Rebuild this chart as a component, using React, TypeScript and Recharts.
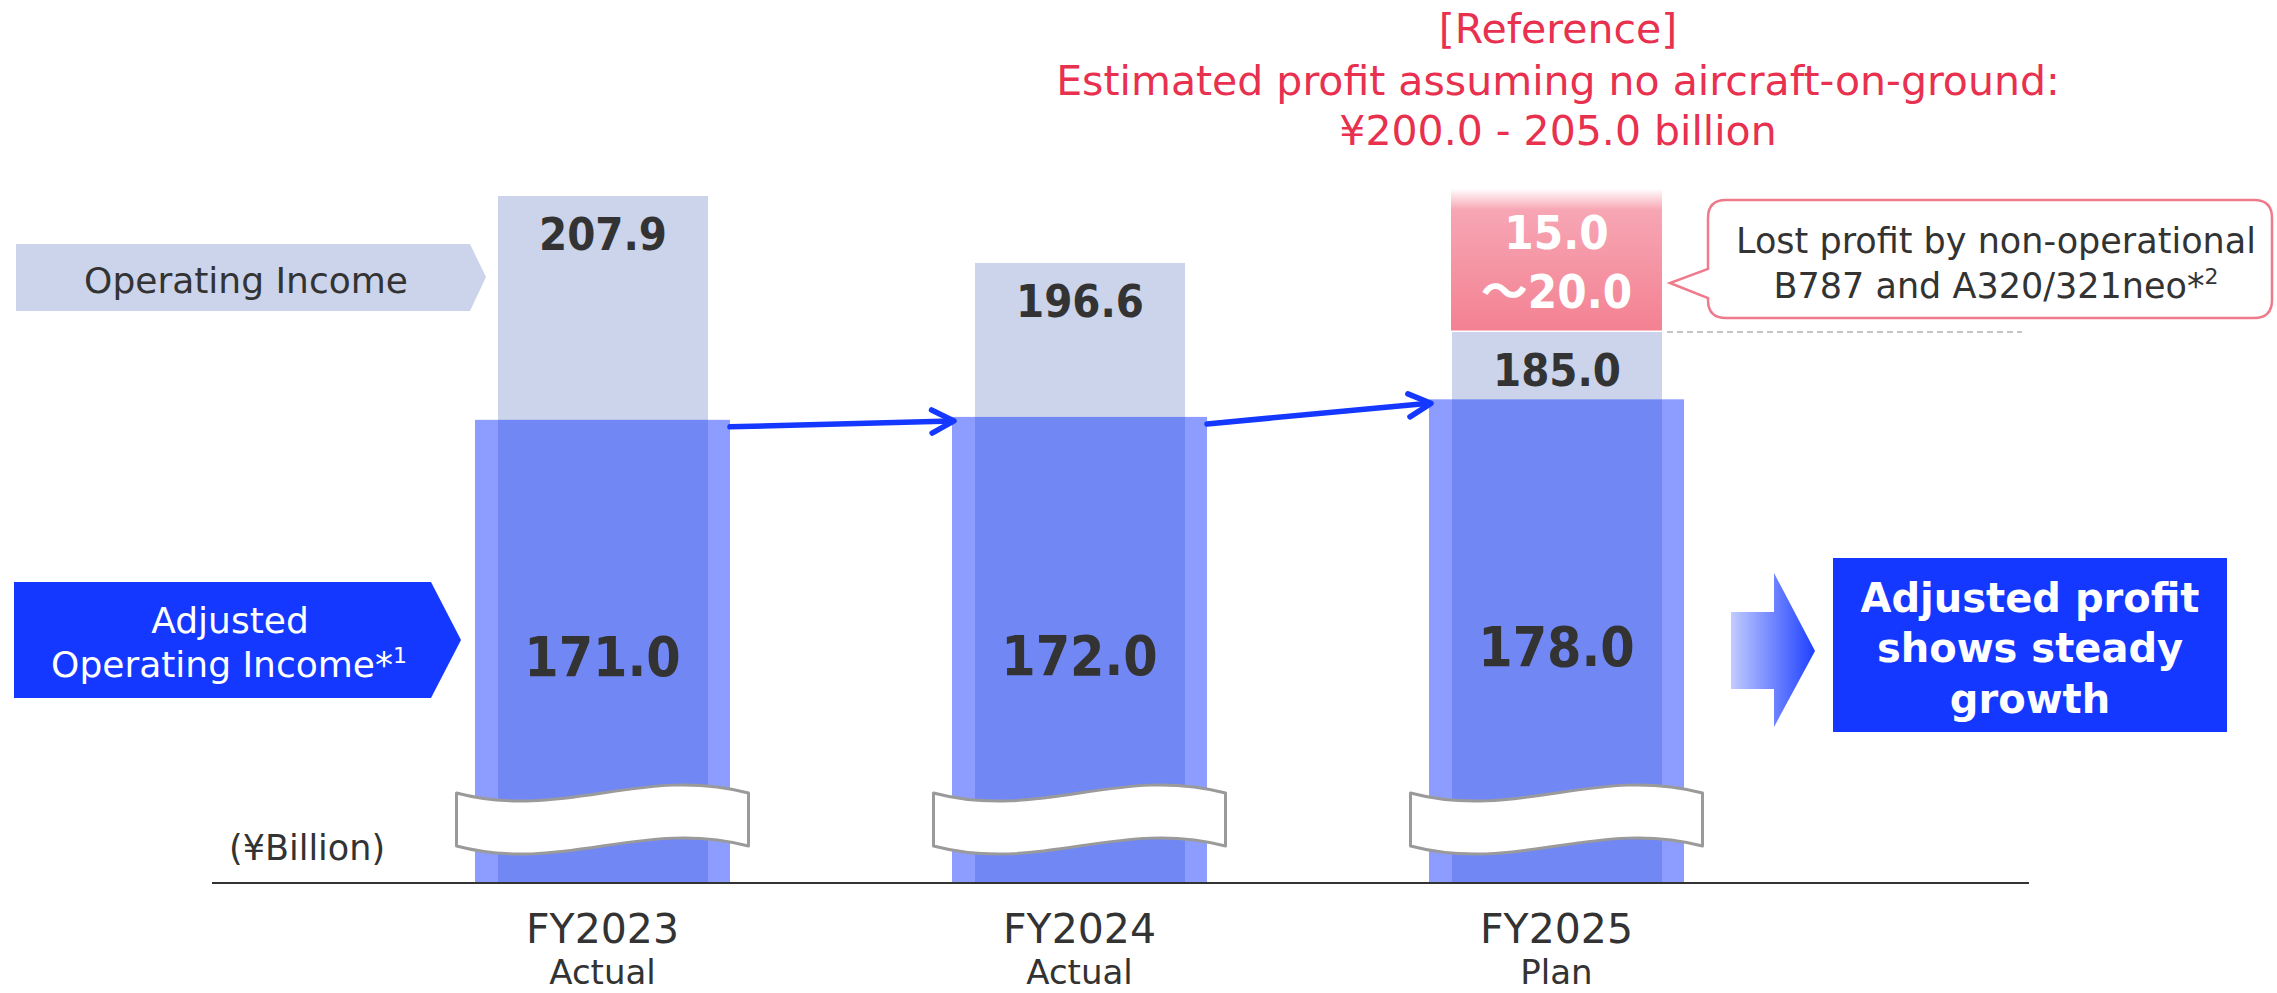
import React from "react";
import { BarChart, Bar, XAxis, YAxis, LabelList } from "recharts";

// ---------- data ----------
const categories = ["FY2023", "FY2024", "FY2025"];
const periodLabels = ["Actual", "Actual", "Plan"];
const operatingIncome = [207.9, 196.6, 185.0];
const adjustedOperatingIncome = [171.0, 172.0, 178.0];
const lostProfitLow: (number | null)[] = [null, null, 15.0];
const lostProfitHigh: (number | null)[] = [null, null, 20.0];

// ---------- layout / style ----------
const W = 2277;
const H = 993;
const MARGIN = { top: 0, right: 248, bottom: 0, left: 212 };
const X_AXIS_H = 110;
const X_PAD = { left: 152, right: 234 };
const BAND = (W - MARGIN.left - MARGIN.right - X_PAD.left - X_PAD.right) / categories.length;
// illustrative (not-to-scale) axes, one per series
const OP_DOMAIN: [number, number] = [92.22, 240.9];
const ADJ_DOMAIN: [number, number] = [12.92, 314.29];
const LOST_DOMAIN: [number, number] = [107.18, 231.55];

const FONT = "'DejaVu Sans', Verdana, sans-serif";
const BOLD_FONT = "'DejaVu Sans Condensed', 'DejaVu Sans', sans-serif";
const TEXT = "#333333";
const OP_COLOR = "#CBD4EA";
const ADJ_COLOR = "#1438FF";
const BLUE = "#1438FF";
const RED = "#E8304F";

const data = categories.map((name, i) => ({
  name,
  period: periodLabels[i],
  op: operatingIncome[i],
  adj: adjustedOperatingIncome[i],
  lost:
    lostProfitHigh[i] != null
      ? [operatingIncome[i], operatingIncome[i] + (lostProfitHigh[i] as number)]
      : null,
}));

const idxOf = (props: any) => {
  const n = props?.payload?.name ?? props?.name;
  const i = categories.indexOf(n);
  return i >= 0 ? i : props.index ?? 0;
};

const AdjShape = (props: any) => {
  const { x, y, width, height } = props;
  if (height == null || isNaN(height)) return null;
  const index = idxOf(props);
  const bottom = y + height;
  const cx = x + width / 2;
  const k = height / (adjustedOperatingIncome[index] - ADJ_DOMAIN[0]);
  let arrow: React.ReactNode = null;
  if (index > 0) {
    const prevTop = y + (adjustedOperatingIncome[index] - adjustedOperatingIncome[index - 1]) * k;
    const x1 = x - (BAND - width);
    const y1 = prevTop + 7;
    const x2 = x + 2;
    const y2 = y + 4;
    const th = Math.atan2(y2 - y1, x2 - x1);
    const L = 25;
    const a1 = th + Math.PI - 0.48;
    const a2 = th + Math.PI + 0.48;
    arrow = (
      <g stroke={BLUE} strokeWidth={5.5} strokeLinecap="round" strokeLinejoin="round" fill="none">
        <line x1={x1} y1={y1} x2={x2 - 2} y2={y2} />
        <polyline
          points={`${x2 + L * Math.cos(a1)},${y2 + L * Math.sin(a1)} ${x2},${y2} ${x2 + L * Math.cos(a2)},${y2 + L * Math.sin(a2)}`}
        />
      </g>
    );
  }
  const brk = `M -146,-90 C -40,-62 40,-118 146,-90 L 146,-37 C 40,-65 -40,-9 -146,-37 Z`;
  return (
    <g>
      <rect x={x} y={y} width={width} height={height} fill={ADJ_COLOR} fillOpacity={0.49} />
      <path
        d={brk}
        transform={`translate(${cx},${bottom})`}
        fill="#FFFFFF"
        stroke="#9A9A9A"
        strokeWidth={3}
        strokeLinejoin="round"
      />
      {arrow}
    </g>
  );
};

const LostShape = (props: any) => {
  const { x, y, width, height } = props;
  if (height == null || isNaN(height) || height <= 0) return null;
  const index = idxOf(props);
  const low = lostProfitLow[index];
  const high = lostProfitHigh[index];
  if (low == null || high == null) return null;
  const cx = x + width / 2;
  const bottom = y + height;
  return (
    <g>
      <rect x={x} y={y} width={width} height={height} fill="url(#lostGrad)" />
      <line
        x1={x + width + 5}
        y1={bottom + 1.5}
        x2={x + width + 360}
        y2={bottom + 1.5}
        stroke="#C4C4C4"
        strokeWidth={2}
        strokeDasharray="6 4"
      />
      <text
        x={cx}
        y={bottom - 81}
        textAnchor="middle"
        fill="#FFFFFF"
        fontFamily={BOLD_FONT}
        fontWeight="bold"
        fontSize={47}
      >
        {low.toFixed(1)}
      </text>
      <text
        x={cx}
        y={bottom - 22}
        textAnchor="middle"
        fill="#FFFFFF"
        fontFamily={BOLD_FONT}
        fontWeight="bold"
        fontSize={47}
      >
        <tspan fontFamily="'Noto Sans CJK JP', sans-serif">～</tspan>
        {high.toFixed(1)}
      </text>
    </g>
  );
};

const OpLabel = (p: any) => {
  if (p.value == null || p.x == null) return null;
  return (
    <text
      x={p.x + p.width / 2}
      y={p.y + 54}
      textAnchor="middle"
      fill={TEXT}
      fontFamily={BOLD_FONT}
      fontWeight="bold"
      fontSize={45}
    >
      {Number(p.value).toFixed(1)}
    </text>
  );
};

const AdjLabel = (p: any) => {
  if (p.value == null || p.x == null) return null;
  return (
    <text
      x={p.x + p.width / 2}
      y={p.y + p.height / 2 + 25}
      textAnchor="middle"
      fill={TEXT}
      fontFamily={BOLD_FONT}
      fontWeight="bold"
      fontSize={55}
    >
      {Number(p.value).toFixed(1)}
    </text>
  );
};

const CatTick = (p: any) => {
  const { x, y, payload } = p;
  const i = categories.indexOf(payload?.value);
  return (
    <g>
      <text x={x} y={y + 60} textAnchor="middle" fill={TEXT} fontFamily={FONT} fontSize={41}>
        {payload?.value}
      </text>
      <text x={x} y={y + 101} textAnchor="middle" fill={TEXT} fontFamily={FONT} fontSize={34}>
        {i >= 0 ? periodLabels[i] : ""}
      </text>
    </g>
  );
};

export default function App() {
  return (
    <div style={{ position: "relative", width: W, height: H, overflow: "hidden", background: "#fff" }}>
      <style>{"body{margin:0;}"}</style>
      <BarChart width={W} height={H} data={data} margin={MARGIN}>
        <defs>
          <linearGradient id="lostGrad" x1="0" y1="0" x2="0" y2="1">
            <stop offset="0" stopColor="#F7A6B4" stopOpacity={0} />
            <stop offset="0.15" stopColor="#F7A6B4" stopOpacity={1} />
            <stop offset="1" stopColor="#F38192" stopOpacity={1} />
          </linearGradient>
        </defs>
        <XAxis
          xAxisId="op"
          dataKey="name"
          height={X_AXIS_H}
          padding={X_PAD}
          interval={0}
          tickLine={false}
          tickSize={0}
          tickMargin={0}
          axisLine={{ stroke: "#333333", strokeWidth: 2 }}
          tick={<CatTick />}
        />
        <XAxis xAxisId="lost" dataKey="name" hide height={0} padding={X_PAD} />
        <XAxis xAxisId="adj" dataKey="name" hide height={0} padding={X_PAD} />
        <YAxis yAxisId="op" hide width={0} domain={OP_DOMAIN} allowDataOverflow type="number" />
        <YAxis yAxisId="lost" hide width={0} domain={LOST_DOMAIN} allowDataOverflow type="number" />
        <YAxis yAxisId="adj" hide width={0} domain={ADJ_DOMAIN} allowDataOverflow type="number" />
        <Bar
          xAxisId="op"
          yAxisId="op"
          dataKey="op"
          barSize={210}
          fill={OP_COLOR}
          isAnimationActive={false}
        >
          <LabelList dataKey="op" content={<OpLabel />} />
        </Bar>
        <Bar
          xAxisId="lost"
          yAxisId="lost"
          dataKey="lost"
          barSize={211}
          shape={<LostShape />}
          isAnimationActive={false}
        />
        <Bar
          xAxisId="adj"
          yAxisId="adj"
          dataKey="adj"
          barSize={255}
          shape={<AdjShape />}
          isAnimationActive={false}
        >
          <LabelList dataKey="adj" content={<AdjLabel />} />
        </Bar>
      </BarChart>

      <svg
        width={W}
        height={H}
        style={{ position: "absolute", left: 0, top: 0, pointerEvents: "none" }}
        fontFamily={FONT}
      >
        <defs>
          <linearGradient id="arrowGrad" x1="0" y1="0" x2="1" y2="0">
            <stop offset="0" stopColor="#C2CBFF" />
            <stop offset="1" stopColor="#1E40FF" />
          </linearGradient>
        </defs>
        {/* title */}
        <g fill={RED} fontSize={41} textAnchor="middle">
          <text x={1558} y={43}>[Reference]</text>
          <text x={1558} y={95}>Estimated profit assuming no aircraft-on-ground:</text>
          <text x={1558} y={145}>¥200.0 - 205.0 billion</text>
        </g>
        {/* left labels */}
        <path d="M 16,244 H 470 L 486,277 L 470,311 H 16 Z" fill={OP_COLOR} />
        <text x={246} y={293} textAnchor="middle" fill={TEXT} fontSize={36}>
          Operating Income
        </text>
        <path d="M 14,582 H 431 L 461,640 L 431,698 H 14 Z" fill={BLUE} />
        <text x={230} y={633} textAnchor="middle" fill="#FFFFFF" fontSize={36}>
          Adjusted
        </text>
        <text x={229} y={677} textAnchor="middle" fill="#FFFFFF" fontSize={36}>
          Operating Income*
          <tspan fontSize={22} dy={-14}>1</tspan>
        </text>
        <text x={229} y={860} fill={TEXT} fontSize={35}>
          (¥Billion)
        </text>
        {/* callout */}
        <path
          d="M 1726,200 H 2254 Q 2272,200 2272,218 V 300 Q 2272,318 2254,318 H 1726 Q 1708,318 1708,300 V 298 L 1670,283 L 1708,269 V 218 Q 1708,200 1726,200 Z"
          fill="#FFFFFF"
          stroke="#EF7A8C"
          strokeWidth={2.5}
        />
        <text x={1996} y={253} textAnchor="middle" fill={TEXT} fontSize={35}>
          Lost profit by non-operational
        </text>
        <text x={1996} y={298} textAnchor="middle" fill={TEXT} fontSize={35}>
          B787 and A320/321neo*
          <tspan fontSize={22} dy={-14}>2</tspan>
        </text>
        {/* right conclusion */}
        <path d="M 1731,612 H 1774 V 573 L 1815,651 L 1774,727 V 689 H 1731 Z" fill="url(#arrowGrad)" />
        <rect x={1833} y={558} width={394} height={174} fill={BLUE} />
        <g fill="#FFFFFF" fontSize={40} fontWeight="bold" textAnchor="middle">
          <text x={2030} y={612}>Adjusted profit</text>
          <text x={2030} y={662}>shows steady</text>
          <text x={2030} y={713}>growth</text>
        </g>
      </svg>
    </div>
  );
}
